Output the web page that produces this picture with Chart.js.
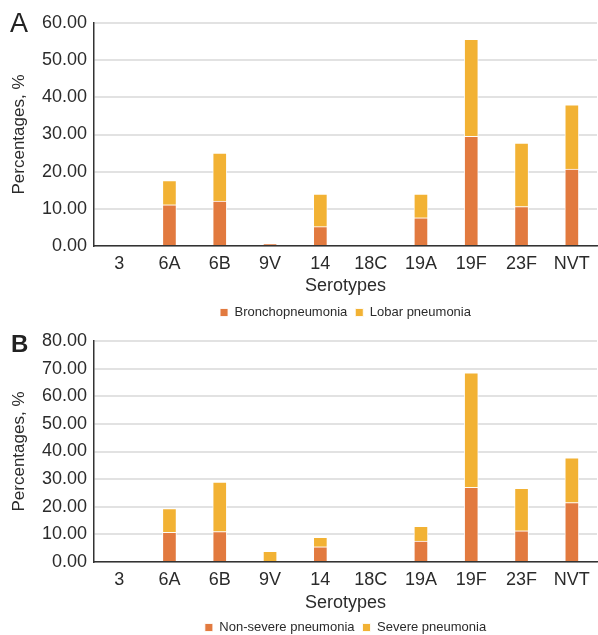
<!DOCTYPE html>
<html>
<head>
<meta charset="utf-8">
<script src="https://cdn.jsdelivr.net/npm/chart.js@4.4.1/dist/chart.umd.min.js"></script>
<style>
  html, body { margin: 0; padding: 0; background: #fff; }
  .panel { position: relative; width: 598px; }
  .tag { position: absolute; left: 10px; font-family: "Liberation Sans", Arial, sans-serif; color: #222; font-size: 27px; line-height: 1; }
</style>
</head>
<body>
<div class="panel" style="height:320px">
  <div class="tag" style="top:10px">A</div>
  <canvas id="chartA"></canvas>
</div>
<div class="panel" style="height:315px">
  <div class="tag" style="top:12px;left:11px;font-weight:bold;font-size:24px">B</div>
  <canvas id="chartB"></canvas>
</div>
<script>
const serotypes = ['3', '6A', '6B', '9V', '14', '18C', '19A', '19F', '23F', 'NVT'];

// panel A
const bronchoValues = [0, 11.1, 12.1, 0.5, 5.2, 0, 7.6, 29.5, 10.6, 20.7];
const lobarValues = [0, 6.5, 12.9, 0, 8.8, 0, 6.4, 26.1, 17.1, 17.3];

// panel B
const nonSevereValues = [0, 10.7, 11.0, 0, 5.5, 0, 7.6, 27.0, 11.3, 21.5];
const severeValues = [0, 8.6, 17.9, 3.9, 3.4, 0, 5.3, 41.5, 15.4, 16.2];

const orange = '#E27A3F';
const yellow = '#F2B234';
const fontFamily = '"Liberation Sans", Arial, sans-serif';
const textColor = '#2b2b2b';

function dataset(label, values, color) {
  return {
    label: label,
    data: values,
    backgroundColor: color,
    borderColor: 'rgba(255,255,255,0.85)',
    borderWidth: 1,
    barThickness: 14
  };
}

function createChart(ctxId, labelA, valuesA, labelB, valuesB, yMax, topPad, xHeight, titlePad) {
  const ctx = document.getElementById(ctxId).getContext('2d');
  new Chart(ctx, {
    type: 'bar',
    data: {
      labels: serotypes,
      datasets: [
        dataset(labelA, valuesA, orange),
        dataset(labelB, valuesB, yellow)
      ]
    },
    options: {
      responsive: true,
      maintainAspectRatio: false,
      animation: false,
      layout: { padding: { top: topPad, right: 1, left: 0, bottom: -9 } },
      plugins: {
        tooltip: { enabled: false },
        legend: {
          position: 'bottom',
          fullSize: false,
          labels: {
            boxWidth: 8,
            boxHeight: 8,
            padding: 8,
            color: textColor,
            font: { family: fontFamily, size: 13 }
          }
        }
      },
      scales: {
        x: {
          stacked: true,
          afterFit: function (scale) { scale.height = xHeight; },
          grid: { display: false, drawTicks: false },
          border: { color: '#333', width: 1.5 },
          ticks: { color: textColor, padding: 7, font: { family: fontFamily, size: 18 } },
          title: {
            display: true,
            text: 'Serotypes',
            color: textColor,
            padding: { top: 0, bottom: titlePad },
            font: { family: fontFamily, size: 18 }
          }
        },
        y: {
          stacked: true,
          min: 0,
          max: yMax,
          afterFit: function (scale) { scale.width = 94; },
          ticks: {
            stepSize: 10,
            color: textColor,
            padding: 7,
            font: { family: fontFamily, size: 18 },
            callback: function (v) { return v.toFixed(2); }
          },
          grid: { color: '#e2e2e2', lineWidth: 2, drawTicks: false },
          border: { color: '#333', width: 1.5 },
          title: {
            display: true,
            text: 'Percentages, %',
            color: textColor,
            padding: { top: 9, bottom: 0 },
            font: { family: fontFamily, size: 17 }
          }
        }
      }
    }
  });
}

createChart('chartA', 'Bronchopneumonia', bronchoValues, 'Lobar pneumonia', lobarValues, 60, 23, 52, 1);
createChart('chartB', 'Non-severe pneumonia', nonSevereValues, 'Severe pneumonia', severeValues, 80, 21, 51, -1);
</script>
</body>
</html>
